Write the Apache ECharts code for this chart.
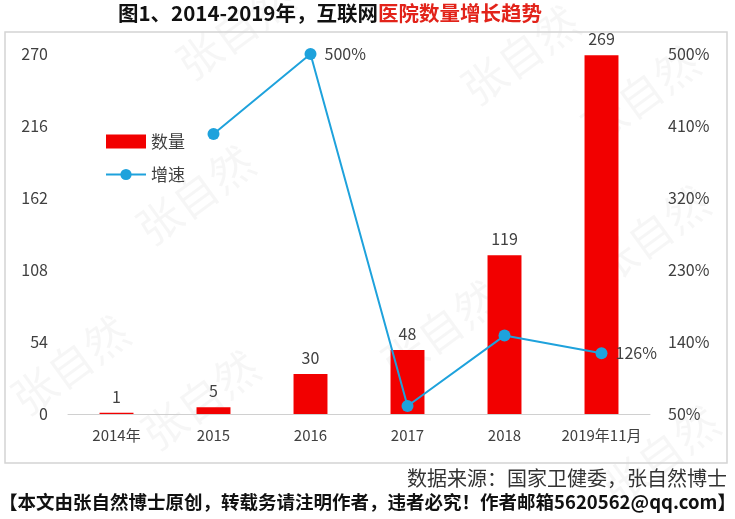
<!DOCTYPE html>
<html lang="zh">
<head>
<meta charset="UTF-8">
<title>互联网医院数量增长趋势</title>
<script src="https://cdn.jsdelivr.net/npm/echarts@6/dist/echarts.min.js"></script>
<style>
  html, body { margin: 0; padding: 0; background: #fff; }
  #main { width: 735px; height: 519px; }
</style>
</head>
<body>
<div id="main"></div>
<script>
// 年份
var years = ['2014年', '2015', '2016', '2017', '2018', '2019年11月'];
// 医院数量
var counts = [1, 5, 30, 48, 119, 269];
// 增速(%)，2014年没有
var growth = [null, 400, 500, 60, 148, 126];
// 折线上显示标签的点
var growthShown = [false, false, true, false, false, true];
var leftTicks = { min: 0, max: 270, step: 54 };
var rightTicks = { min: 50, max: 500, step: 90 };

var font = '"Noto Sans CJK SC", "Noto Sans", sans-serif';

// 水印
var marks = [[235, 30], [520, 55], [195, 195], [640, 95], [70, 365], [650, 235], [440, 330], [660, 455], [200, 400]];
var markGraphics = marks.map(function (p) {
  return {
    type: 'text', x: p[0], y: p[1], rotation: Math.PI / 5, silent: true,
    style: { text: '张自然', font: '44px ' + font, fill: 'rgba(0,0,0,0.035)', align: 'center', verticalAlign: 'middle' }
  };
});

var myChart = echarts.init(document.getElementById('main'));
var option = {
  animation: false,
  textStyle: { fontFamily: font },
  legend: {
    orient: 'vertical', left: 100, top: 128, itemGap: 16,
    itemWidth: 40, itemHeight: 14,
    textStyle: { fontSize: 17, color: '#404040' },
    data: [
      { name: '数量', icon: 'rect' },
      { name: '增速' }
    ]
  },
  grid: { left: 68, right: 85, top: 54, bottom: 105 },
  xAxis: {
    type: 'category', data: years,
    axisTick: { show: false },
    axisLine: { lineStyle: { color: '#d0d0d0', width: 1 } },
    axisLabel: { color: '#404040', fontSize: 15, margin: 14, interval: 0 }
  },
  yAxis: [{
    type: 'value', min: leftTicks.min, max: leftTicks.max, interval: leftTicks.step,
    splitLine: { show: false }, axisLine: { show: false }, axisTick: { show: false },
    axisLabel: { color: '#404040', fontSize: 16, margin: 20 }
  }, {
    type: 'value', min: rightTicks.min, max: rightTicks.max, interval: rightTicks.step,
    splitLine: { show: false }, axisLine: { show: false }, axisTick: { show: false },
    axisLabel: { color: '#404040', fontSize: 16, margin: 18, formatter: '{value}%' }
  }],
  series: [{
    name: '数量', type: 'bar', data: counts, barWidth: '35%',
    itemStyle: { color: '#f20000' },
    label: { show: true, position: 'top', distance: 8, color: '#404040', fontSize: 16 }
  }, {
    name: '增速', type: 'line', yAxisIndex: 1,
    data: growth.map(function (v, i) {
      return { value: v, label: { show: growthShown[i] } };
    }),
    symbol: 'circle', symbolSize: 12,
    lineStyle: { color: '#1ea2dc', width: 2 },
    itemStyle: { color: '#1ea2dc' },
    label: { position: 'right', distance: 8, color: '#404040', fontSize: 16, formatter: '{c}%' }
  }],
  graphic: markGraphics.concat([
    {
      type: 'rect', shape: { x: 5, y: 32, width: 722, height: 431 }, silent: true,
      style: { fill: 'none', stroke: '#d4d4d4', lineWidth: 1.5 }
    },
    {
      type: 'text', left: 118, top: 3,
      style: {
        text: '{b|图1、2014-2019年，互联网}{r|医院数量增长趋势}',
        rich: {
          b: { font: 'bold 20.5px ' + font, fill: '#111' },
          r: { font: 'bold 20.5px ' + font, fill: '#e2231a' }
        }
      }
    },
    {
      type: 'text', right: 8, top: 468,
      style: { text: '数据来源：国家卫健委，张自然博士', font: '20px ' + font, fill: '#333' }
    },
    {
      type: 'text', left: 'center', top: 493,
      style: { text: '【本文由张自然博士原创，转载务请注明作者，违者必究！作者邮箱5620562@qq.com】', font: 'bold 18.5px ' + font, fill: '#111' }
    }
  ])
};
myChart.setOption(option);
</script>
</body>
</html>
